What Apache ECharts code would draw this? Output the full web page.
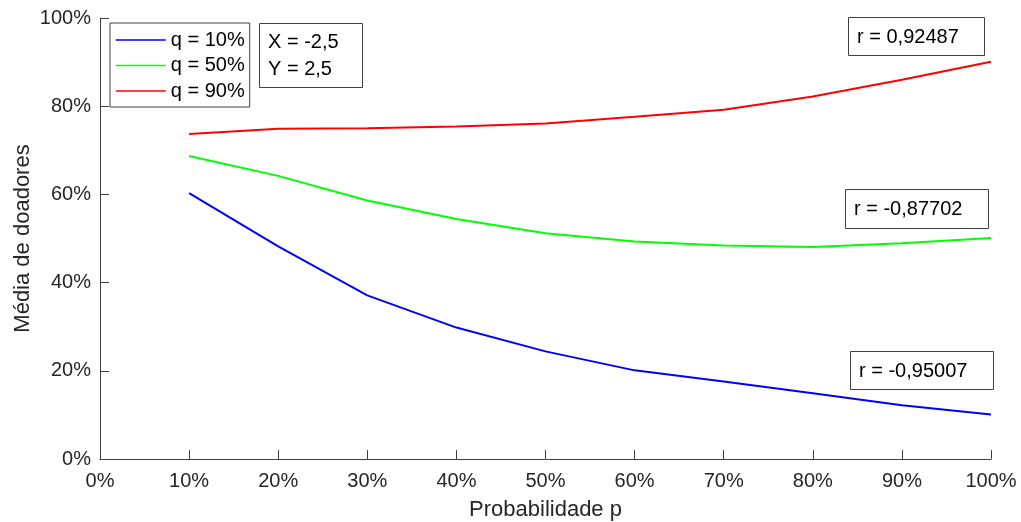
<!DOCTYPE html>
<html>
<head>
<meta charset="utf-8">
<script src="https://cdn.jsdelivr.net/npm/echarts@6/dist/echarts.min.js"></script>
<style>
    html, body { margin: 0; padding: 0; background: #fff; }
    #chart { width: 1021px; height: 522px; }
</style>
</head>
<body>
<div id="chart"></div>
<script>
    // probabilidade p (%)
    const pValues = [10, 20, 30, 40, 50, 60, 70, 80, 90, 100];
    const seriesNames = ['q = 10%', 'q = 50%', 'q = 90%'];
    const q10 = [60.3, 48.2, 37.1, 29.8, 24.4, 20.1, 17.6, 14.9, 12.2, 10.1];
    const q50 = [68.7, 64.2, 58.6, 54.4, 51.2, 49.3, 48.4, 48.1, 48.9, 50.1];
    const q90 = [73.7, 74.9, 75.0, 75.4, 76.1, 77.6, 79.2, 82.2, 86.0, 90.1];
    const seriesColors = ['#0000ff', '#00ff00', '#ff0000'];
    const xTicks = [0, 10, 20, 30, 40, 50, 60, 70, 80, 90, 100];
    const yTicks = [0, 20, 40, 60, 80, 100];
    const rLabels = ['r = 0,92487 ', 'r = -0,87702 ', 'r = -0,95007 '];
    const xyNote = 'X = -2,5\nY = 2,5';

    const font = 'Liberation Sans, Arial, sans-serif';
    const ink = '#262626';

    function pairs(vals) {
        return pValues.map((p, i) => [p, vals[i]]);
    }

    function textBox(x, y, w, h, text, tx, lh) {
        return {
            type: 'group',
            left: x, top: y,
            children: [{
                type: 'rect',
                shape: { x: 0.5, y: 0.5, width: w, height: h },
                style: { fill: '#fff', stroke: '#404040', lineWidth: 1 }
            }, {
                type: 'text',
                x: tx, y: h / 2 + 1,
                style: {
                    text: text, font: '20px ' + font, fill: '#000',
                    verticalAlign: 'middle', lineHeight: lh || 22
                }
            }]
        };
    }

    let chart = echarts.init(document.getElementById('chart'));
    const allData = [q10, q50, q90];
    const option = {
        animation: false,
        grid: { left: 100, top: 18, width: 891, height: 441, outerBoundsMode: 'none', containLabel: false },
        xAxis: {
            type: 'value', min: xTicks[0], max: xTicks[xTicks.length - 1], interval: 10,
            name: 'Probabilidade p', nameLocation: 'middle', nameGap: 40, nameMoveOverlap: false,
            nameTextStyle: { color: ink, fontSize: 22, fontFamily: font },
            axisLine: { lineStyle: { color: '#404040', width: 1 } },
            axisTick: { inside: true, length: 9, lineStyle: { color: '#404040' } },
            axisLabel: { formatter: '{value}%', color: ink, fontSize: 20, fontFamily: font, margin: 12 },
            splitLine: { show: false }
        },
        yAxis: {
            type: 'value', min: yTicks[0], max: yTicks[yTicks.length - 1], interval: 20,
            name: 'Média de doadores', nameLocation: 'middle', nameGap: 66, nameMoveOverlap: false,
            nameTextStyle: { color: ink, fontSize: 22, fontFamily: font },
            axisLine: { show: true, lineStyle: { color: '#404040', width: 1 } },
            axisTick: { show: true, inside: true, length: 9, lineStyle: { color: '#404040' } },
            axisLabel: { formatter: '{value}%', color: ink, fontSize: 20, fontFamily: font, margin: 9 },
            splitLine: { show: false }
        },
        legend: {
            orient: 'vertical', left: 110, top: 23,
            data: seriesNames,
            itemWidth: 50, itemHeight: 20, itemGap: 5.5,
            padding: [7, 5, 6, 5],
            borderColor: '#404040', borderWidth: 1, backgroundColor: '#fff',
            itemStyle: { color: 'rgba(0,0,0,0)', borderColor: 'rgba(0,0,0,0)', borderWidth: 0 },
            lineStyle: { width: 1.5 },
            textStyle: { color: '#000', fontSize: 20, fontFamily: font }
        },
        series: allData.map((d, i) => ({
            name: seriesNames[i],
            type: 'line',
            data: pairs(d),
            symbol: 'none',
            color: seriesColors[i],
            lineStyle: { color: seriesColors[i], width: 2 }
        })),
        graphic: [
            textBox(259, 23, 103, 64, xyNote, 9, 27),
            textBox(848, 17, 136, 38, rLabels[0], 9),
            textBox(845, 189, 143, 39, rLabels[1], 9),
            textBox(850, 351, 143, 38, rLabels[2], 9)
        ]
    };
    chart.setOption(option);
</script>
</body>
</html>
